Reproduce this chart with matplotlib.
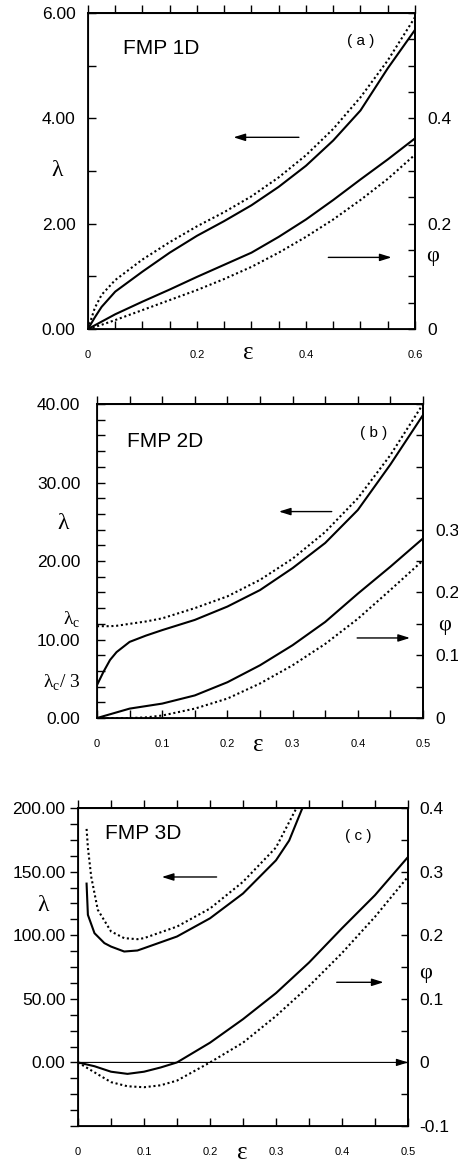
import numpy as np
import matplotlib
matplotlib.use('Agg')
import matplotlib.pyplot as plt

plt.rcParams['font.family'] = ['Liberation Sans', 'DejaVu Sans']
plt.rcParams['mathtext.fontset'] = 'custom'
plt.rcParams['mathtext.rm'] = 'Liberation Sans'
plt.rcParams['mathtext.it'] = 'Liberation Sans'

# ---- panel (a): FMP 1D ----
eps_a = [0, 0.0125, 0.025, 0.05, 0.1, 0.15, 0.2, 0.25, 0.3, 0.35, 0.4, 0.45, 0.5, 0.55, 0.6]
lam_a_solid = [0, 0.22, 0.42, 0.71, 1.09, 1.45, 1.77, 2.05, 2.35, 2.70, 3.10, 3.58, 4.15, 4.95, 5.68]
lam_a_dot = [0, 0.40, 0.65, 0.93, 1.32, 1.65, 1.95, 2.22, 2.52, 2.88, 3.30, 3.80, 4.40, 5.10, 5.92]
phi_a_solid = [0, 0.007, 0.014, 0.028, 0.052, 0.075, 0.099, 0.122, 0.145, 0.175, 0.208, 0.245, 0.284, 0.322, 0.362]
phi_a_dot = [0, 0.004, 0.008, 0.017, 0.036, 0.055, 0.074, 0.095, 0.118, 0.145, 0.175, 0.208, 0.245, 0.285, 0.331]

# ---- panel (b): FMP 2D ----
eps_b = [0, 0.01, 0.02, 0.03, 0.05, 0.075, 0.1, 0.15, 0.2, 0.25, 0.3, 0.35, 0.4, 0.45, 0.5]
lam_b_solid = [4.2, 5.9, 7.4, 8.4, 9.7, 10.5, 11.2, 12.5, 14.2, 16.3, 19.1, 22.3, 26.5, 32.3, 38.6]
lam_b_dot = [11.7, 11.7, 11.7, 11.75, 12.0, 12.3, 12.7, 14.0, 15.5, 17.6, 20.3, 23.7, 28.0, 33.5, 40.0]
phi_b_solid = [0, 0.003, 0.006, 0.009, 0.015, 0.019, 0.023, 0.036, 0.057, 0.084, 0.116, 0.153, 0.198, 0.241, 0.286]
phi_b_dot = [0, 0, 0, 0, 0, 0.001, 0.004, 0.015, 0.031, 0.055, 0.084, 0.118, 0.158, 0.204, 0.251]
lam_c_value = 12.0

# ---- panel (c): FMP 3D ----
eps_c_lam_solid = [0.013, 0.015, 0.025, 0.04, 0.05, 0.07, 0.09, 0.1, 0.15, 0.2, 0.25, 0.3, 0.32, 0.34]
lam_c_solid = [140.6, 116, 101.6, 93.8, 91.1, 87.2, 88, 89.8, 99, 113.3, 132.8, 158.9, 174.5, 200]
eps_c_lam_dot = [0.013, 0.015, 0.02, 0.03, 0.05, 0.07, 0.09, 0.1, 0.15, 0.2, 0.25, 0.3, 0.33]
lam_c_dot = [183.6, 169, 146, 120, 103, 97.7, 96.9, 97.7, 106.8, 121, 142, 169, 199]
eps_c_phi = [0, 0.025, 0.05, 0.075, 0.1, 0.125, 0.15, 0.2, 0.25, 0.3, 0.35, 0.4, 0.45, 0.5]
phi_c_solid = [0, -0.006, -0.0146, -0.018, -0.0146, -0.008, 0, 0.031, 0.068, 0.109, 0.157, 0.211, 0.263, 0.323]
phi_c_dot = [0, -0.0156, -0.031, -0.0375, -0.039, -0.036, -0.0286, 0, 0.031, 0.073, 0.12, 0.172, 0.229, 0.292]

DOT = (0, (1, 1.3))
LW = 1.5
GREEK = ['Liberation Serif', 'DejaVu Serif']
ARROW = dict(arrowstyle='-|>,head_length=0.7,head_width=0.22', color='black', lw=1.0,
             shrinkA=0, shrinkB=0, mutation_scale=10)


def setup_panel(rect, xmax, ylim, ymajor, ylabels, yminor, ydir,
                philim, phimajor, philabels, ypad, ppad):
    ax = fig.add_axes(rect)
    ax.set_xlim(0, xmax)
    ax.set_ylim(*ylim)
    for s in ax.spines.values():
        s.set_linewidth(1.3)

    xt = np.round(np.arange(0, xmax + 1e-9, 0.1 if xmax < 0.55 else 0.2), 2)
    ax.set_xticks(xt)
    ax.set_xticklabels(['0'] + ['%g' % v for v in xt[1:]], fontsize=8)
    ax.set_xticks(np.arange(0, xmax + 1e-9, 0.05), minor=True)
    ax.tick_params(axis='x', which='both', direction='in', length=6, width=1,
                   pad=15, top=False)

    ax.set_yticks(ymajor)
    ax.set_yticklabels(ylabels, fontsize=12.5)
    ax.set_yticks(yminor, minor=True)
    ax.tick_params(axis='y', which='both', direction=ydir, length=6, width=1,
                   pad=ypad, right=False)

    sec = ax.secondary_xaxis('top')
    sec.set_xticks(np.arange(0, xmax + 1e-9, 0.05))
    sec.set_xticklabels([])
    sec.tick_params(direction='out', length=6, width=1)
    sec.spines['top'].set_linewidth(1.3)

    ax2 = ax.twinx()
    ax2.set_ylim(*philim)
    ax2.set_yticks(phimajor)
    ax2.set_yticklabels(philabels, fontsize=12.5)
    ax2.set_yticks(np.arange(philim[0], philim[1] + 1e-9, 0.05), minor=True)
    ax2.tick_params(axis='y', which='both', direction='in', length=5, width=1, pad=ppad)
    ax2.spines['right'].set_linewidth(1.3)
    return ax, ax2


fig = plt.figure(figsize=(4.58, 11.63), dpi=100)

# ---------------- (a) ----------------
ax, ax2 = setup_panel([0.1921, 0.7171, 0.714, 0.2717], 0.6, (0, 6),
                      [0, 2, 4, 6], ['0.00', '2.00', '4.00', '6.00'], [1, 3, 5], 'in',
                      (0, 0.6), [0, 0.2, 0.4], ['0', '0.2', '0.4'], 9, 9)
ax.plot(eps_a, lam_a_solid, color='black', lw=LW)
ax.plot(eps_a, lam_a_dot, color='black', lw=LW, ls=DOT)
ax2.plot(eps_a, phi_a_solid, color='black', lw=LW)
ax2.plot(eps_a, phi_a_dot, color='black', lw=LW, ls=DOT)
ax.annotate('', xy=(0.267, 3.64), xytext=(0.387, 3.64), arrowprops=ARROW)
ax.annotate('', xy=(0.557, 1.36), xytext=(0.441, 1.36), arrowprops=ARROW)
ax.text(0.065, 5.33, 'FMP 1D', fontsize=15, va='center', ha='left')
ax.text(0.5, 5.46, '( a )', fontsize=11, va='center', ha='center')
ax.text(-0.095, 0.503, 'λ', family=GREEK, fontsize=17, transform=ax.transAxes,
        ha='center', va='center')
ax.text(1.055, 0.228, 'φ', family=GREEK, fontsize=16, transform=ax.transAxes,
        ha='center', va='center')
ax.text(0.489, -0.076, 'ε', family=GREEK, fontsize=18, transform=ax.transAxes,
        ha='center', va='center')

# ---------------- (b) ----------------
ax, ax2 = setup_panel([0.2118, 0.3826, 0.7118, 0.270], 0.5, (0, 40),
                      [0, lam_c_value / 3, 10, lam_c_value, 20, 30, 40],
                      ['0.00', 'λ$_{\\mathregular{c}}$/ 3', '10.00', 'λ$_{\\mathregular{c}}$',
                       '20.00', '30.00', '40.00'],
                      np.arange(0, 41, 2), 'in',
                      (0, 0.5), [0, 0.1, 0.2, 0.3], ['0', '0.1', '0.2', '0.3'], 12, 9)
for lbl in ax.get_yticklabels():
    if 'λ' in lbl.get_text():
        lbl.set_fontsize(14)
        lbl.set_family(['Liberation Serif', 'Liberation Sans'])
        lbl.set_verticalalignment('baseline')
ax.plot(eps_b, lam_b_solid, color='black', lw=LW)
ax.plot(eps_b, lam_b_dot, color='black', lw=LW, ls=DOT)
ax2.plot(eps_b, phi_b_solid, color='black', lw=LW)
ax2.plot(eps_b, phi_b_dot, color='black', lw=LW, ls=DOT)
ax.annotate('', xy=(0.279, 26.3), xytext=(0.36, 26.3), arrowprops=ARROW)
ax.annotate('', xy=(0.48, 10.2), xytext=(0.399, 10.2), arrowprops=ARROW)
ax.text(0.046, 35.2, 'FMP 2D', fontsize=15, va='center', ha='left')
ax.text(0.424, 36.3, '( b )', fontsize=11, va='center', ha='center')
ax.text(-0.104, 0.621, 'λ', family=GREEK, fontsize=17, transform=ax.transAxes,
        ha='center', va='center')
ax.text(1.067, 0.296, 'φ', family=GREEK, fontsize=16, transform=ax.transAxes,
        ha='center', va='center')
ax.text(0.494, -0.086, 'ε', family=GREEK, fontsize=18, transform=ax.transAxes,
        ha='center', va='center')

# ---------------- (c) ----------------
ax, ax2 = setup_panel([0.1703, 0.0318, 0.7205, 0.2734], 0.5, (-50, 200),
                      [0, 50, 100, 150, 200], ['0.00', '50.00', '100.00', '150.00', '200.00'],
                      np.arange(-50, 201, 12.5), 'out',
                      (-0.1, 0.4), [-0.1, 0, 0.1, 0.2, 0.3, 0.4],
                      ['-0.1', '0', '0.1', '0.2', '0.3', '0.4'], 3, 8)
ax.plot(eps_c_lam_solid, lam_c_solid, color='black', lw=LW, clip_on=True)
ax.plot(eps_c_lam_dot, lam_c_dot, color='black', lw=LW, ls=DOT)
ax2.plot(eps_c_phi, phi_c_solid, color='black', lw=LW)
ax2.plot(eps_c_phi, phi_c_dot, color='black', lw=LW, ls=DOT)
ax.annotate('', xy=(0.5, 0), xytext=(0, 0),
            arrowprops=dict(ARROW, lw=0.8))
ax.annotate('', xy=(0.127, 145.8), xytext=(0.21, 145.8), arrowprops=ARROW)
ax.annotate('', xy=(0.463, 63), xytext=(0.392, 63), arrowprops=ARROW)
ax.text(0.041, 180, 'FMP 3D', fontsize=15, va='center', ha='left')
ax.text(0.425, 178, '( c )', fontsize=11, va='center', ha='center')
ax.text(-0.106, 0.695, 'λ', family=GREEK, fontsize=17, transform=ax.transAxes,
        ha='center', va='center')
ax.text(1.052, 0.481, 'φ', family=GREEK, fontsize=16, transform=ax.transAxes,
        ha='center', va='center')
ax.text(0.497, -0.085, 'ε', family=GREEK, fontsize=18, transform=ax.transAxes,
        ha='center', va='center')

fig.savefig('out.png', dpi=100)
